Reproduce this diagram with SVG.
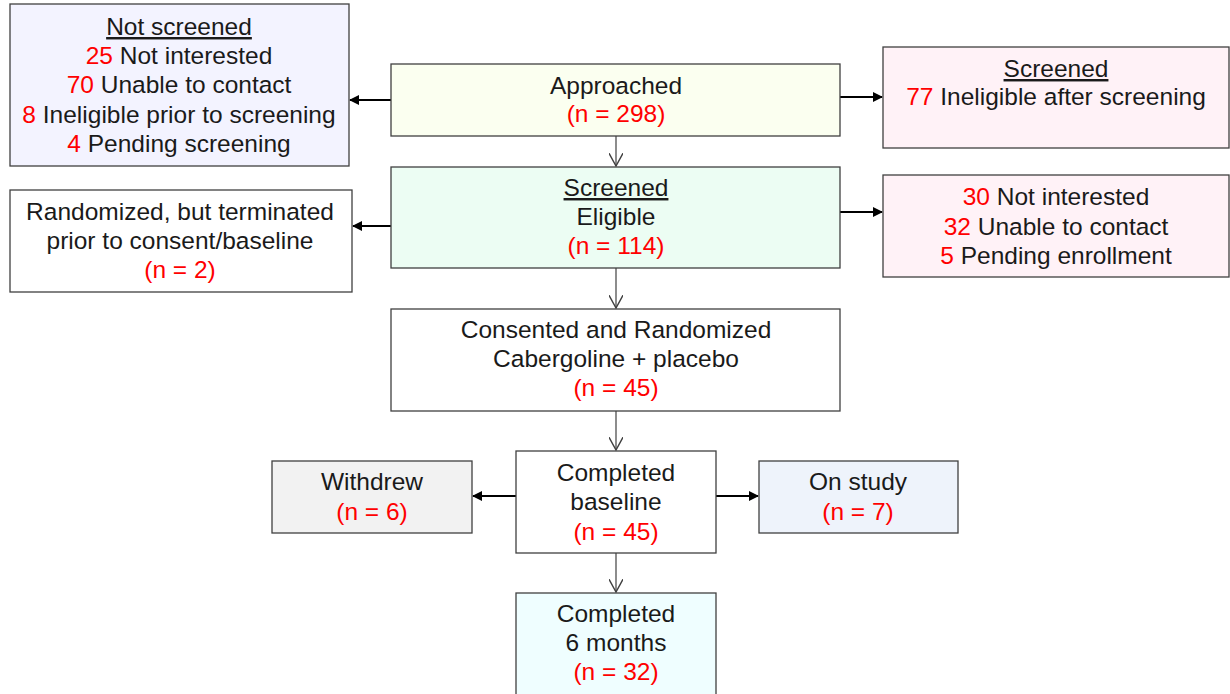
<svg xmlns="http://www.w3.org/2000/svg" width="1230" height="694" viewBox="0 0 1230 694">
<style>
.b{stroke:#404040;stroke-width:1.3}
text{font-family:"Liberation Sans",Arial,sans-serif;font-size:24.5px;fill:#1a1a1a;text-anchor:middle}
.r{fill:#ff0000}
.u{text-decoration:underline}
.c{stroke:#000;stroke-width:2;fill:none}
.t{stroke:#404040;stroke-width:1.2;fill:none}
</style>
<defs>
<marker id="fa" viewBox="0 0 10 10" refX="9" refY="5" markerWidth="11" markerHeight="10" markerUnits="userSpaceOnUse" orient="auto"><path d="M0,0 L10,5 L0,10 Z" fill="#000"/></marker>
<marker id="va" viewBox="0 0 12 12" refX="11" refY="6" markerWidth="14" markerHeight="14" markerUnits="userSpaceOnUse" orient="auto"><path d="M0,0 L11,6 L0,12" fill="none" stroke="#404040" stroke-width="1.2"/></marker>
</defs>
<g id="connectors">
<line class="c" x1="391" y1="100" x2="350" y2="100" marker-end="url(#fa)"/>
<line class="c" x1="840" y1="97" x2="882" y2="97" marker-end="url(#fa)"/>
<line class="c" x1="391" y1="226" x2="353" y2="226" marker-end="url(#fa)"/>
<line class="c" x1="840" y1="212" x2="882" y2="212" marker-end="url(#fa)"/>
<line class="t" x1="616" y1="136" x2="616" y2="166" marker-end="url(#va)"/>
<line class="t" x1="616" y1="268" x2="616" y2="308" marker-end="url(#va)"/>
<line class="t" x1="616" y1="411" x2="616" y2="450" marker-end="url(#va)"/>
<line class="c" x1="516" y1="496" x2="473" y2="496" marker-end="url(#fa)"/>
<line class="c" x1="716" y1="496" x2="758" y2="496" marker-end="url(#fa)"/>
<line class="t" x1="616" y1="553" x2="616" y2="592" marker-end="url(#va)"/>
</g>
<g id="not-screened">
<rect class="b" x="10" y="4" width="339" height="162" fill="#f3f3ff"/>
<text x="179" y="35" class="u">Not screened</text>
<text x="179" y="64"><tspan class="r">25</tspan> Not interested</text>
<text x="179" y="93"><tspan class="r">70</tspan> Unable to contact</text>
<text x="179" y="123"><tspan class="r">8</tspan> Ineligible prior to screening</text>
<text x="179" y="152"><tspan class="r">4</tspan> Pending screening</text>
</g>
<g id="approached">
<rect class="b" x="391" y="64" width="449" height="72" fill="#fbfff0"/>
<text x="616" y="94">Approached</text>
<text x="616" y="122" class="r">(n = 298)</text>
</g>
<g id="screened-ineligible">
<rect class="b" x="883" y="47" width="346" height="101" fill="#fff2f7"/>
<text x="1056" y="77" class="u">Screened</text>
<text x="1056" y="105"><tspan class="r">77</tspan> Ineligible after screening</text>
</g>
<g id="randomized-terminated">
<rect class="b" x="10" y="190" width="342" height="102" fill="#ffffff"/>
<text x="180" y="220">Randomized, but terminated</text>
<text x="180" y="249">prior to consent/baseline</text>
<text x="180" y="278" class="r">(n = 2)</text>
</g>
<g id="screened-eligible">
<rect class="b" x="391" y="167" width="449" height="101" fill="#ecfdf3"/>
<text x="616" y="196" class="u">Screened</text>
<text x="616" y="225">Eligible</text>
<text x="616" y="254" class="r">(n = 114)</text>
</g>
<g id="not-enrolled">
<rect class="b" x="883" y="175" width="346" height="102" fill="#fff2f7"/>
<text x="1056" y="205"><tspan class="r">30</tspan> Not interested</text>
<text x="1056" y="235"><tspan class="r">32</tspan> Unable to contact</text>
<text x="1056" y="264"><tspan class="r">5</tspan> Pending enrollment</text>
</g>
<g id="consented">
<rect class="b" x="391" y="309" width="449" height="102" fill="#ffffff"/>
<text x="616" y="338">Consented and Randomized</text>
<text x="616" y="367">Cabergoline + placebo</text>
<text x="616" y="396" class="r">(n = 45)</text>
</g>
<g id="withdrew">
<rect class="b" x="272" y="461" width="200" height="72" fill="#f2f2f2"/>
<text x="372" y="490">Withdrew</text>
<text x="372" y="520" class="r">(n = 6)</text>
</g>
<g id="completed-baseline">
<rect class="b" x="516" y="451" width="200" height="102" fill="#ffffff"/>
<text x="616" y="481">Completed</text>
<text x="616" y="510">baseline</text>
<text x="616" y="540" class="r">(n = 45)</text>
</g>
<g id="on-study">
<rect class="b" x="759" y="461" width="199" height="72" fill="#eef3fb"/>
<text x="858" y="490">On study</text>
<text x="858" y="520" class="r">(n = 7)</text>
</g>
<g id="completed-6-months">
<rect class="b" x="516" y="593" width="200" height="110" fill="#effeff"/>
<text x="616" y="622">Completed</text>
<text x="616" y="651">6 months</text>
<text x="616" y="680" class="r">(n = 32)</text>
</g>
</svg>
